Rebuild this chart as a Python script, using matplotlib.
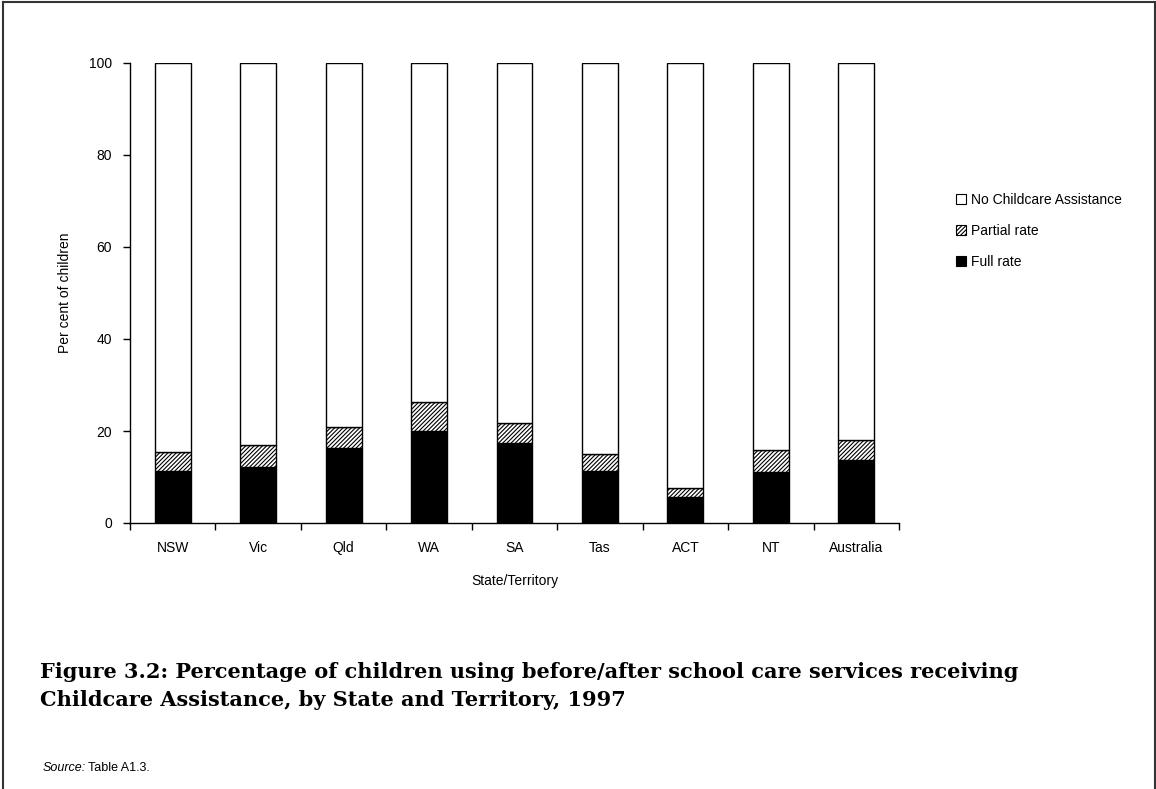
import numpy as np
import matplotlib.pyplot as plt
from matplotlib.lines import Line2D
from matplotlib.patches import Patch

# Childcare Assistance for before/after school care, per cent of children
states = ['NSW', 'Vic', 'Qld', 'WA', 'SA', 'Tas', 'ACT', 'NT', 'Australia']
full_rate = [11.4, 12.1, 16.2, 20.0, 17.5, 11.4, 5.6, 11.1, 13.7]
partial_rate = [4.1, 4.8, 4.7, 6.2, 4.2, 3.7, 2.1, 4.8, 4.3]
y_ticks = [0, 20, 40, 60, 80, 100]

full = np.array(full_rate)
partial = np.array(partial_rate)
none = 100 - full - partial

plt.rcParams['font.family'] = ['Liberation Sans', 'DejaVu Sans']
plt.rcParams['hatch.linewidth'] = 0.8

fig = plt.figure(figsize=(11.56, 7.89), dpi=100)
ax = fig.add_axes([130 / 1156, 1 - 523 / 789, 769 / 1156, 460 / 789])

x = np.arange(len(states))
w = 0.42
hatch = '////////'
ax.bar(x, full, w, color='black', edgecolor='black', linewidth=1, label='Full rate')
ax.bar(x, partial, w, bottom=full, color='white', edgecolor='black',
       hatch=hatch, linewidth=1, label='Partial rate')
ax.bar(x, none, w, bottom=full + partial, color='white', edgecolor='black',
       linewidth=1, label='No Childcare Assistance')

ax.set_xlim(-0.5, len(states) - 0.5)
ax.set_ylim(0, 100)
ax.set_yticks(y_ticks)
ax.set_xticks(x)
ax.set_xticklabels(states)
ax.set_xticks(np.arange(len(states) + 1) - 0.5, minor=True)
ax.tick_params(axis='x', which='major', length=0, pad=13, labelsize=10)
ax.tick_params(axis='x', which='minor', length=5, width=1, direction='out')
ax.tick_params(axis='y', length=5, width=1, direction='out', pad=8, labelsize=10)

for side in ['top', 'right']:
    ax.spines[side].set_visible(False)
for side in ['left', 'bottom']:
    ax.spines[side].set_linewidth(1)

ax.set_xlabel('State/Territory', fontsize=10, labelpad=14)
ax.set_ylabel('Per cent of children', fontsize=10, labelpad=12)

handles = [
    Patch(facecolor='white', edgecolor='black', linewidth=0.8),
    Patch(facecolor='white', edgecolor='black', hatch=hatch, linewidth=0.8),
    Patch(facecolor='black', edgecolor='black', linewidth=0.8),
]
labels = ['No Childcare Assistance', 'Partial rate', 'Full rate']
fig.legend(handles, labels, loc='upper left', bbox_to_anchor=(949 / 1156, 1 - 186 / 789),
           frameon=False, fontsize=10, handlelength=0.7, handleheight=0.7,
           handletextpad=0.4, labelspacing=1.22, borderpad=0)

fig.text(40 / 1156, 1 - 686 / 789,
         'Figure 3.2: Percentage of children using before/after school care services receiving\n'
         'Childcare Assistance, by State and Territory, 1997',
         family=['DejaVu Serif'], fontweight='bold', fontsize=15, linespacing=1.55,
         va='center', ha='left')

fig.text(43 / 1156, 1 - 768 / 789, 'Source:', fontsize=9, style='italic', va='center')
fig.text(88 / 1156, 1 - 768 / 789, 'Table A1.3.', fontsize=9, va='center')

# page frame
for xs, ys in [([3, 1155], [2, 2]), ([3, 3], [2, 789]), ([1155, 1155], [2, 789])]:
    fig.add_artist(Line2D([v / 1156 for v in xs], [1 - v / 789 for v in ys],
                          color='#333333', linewidth=1.5))

fig.savefig('out.png', dpi=100)
